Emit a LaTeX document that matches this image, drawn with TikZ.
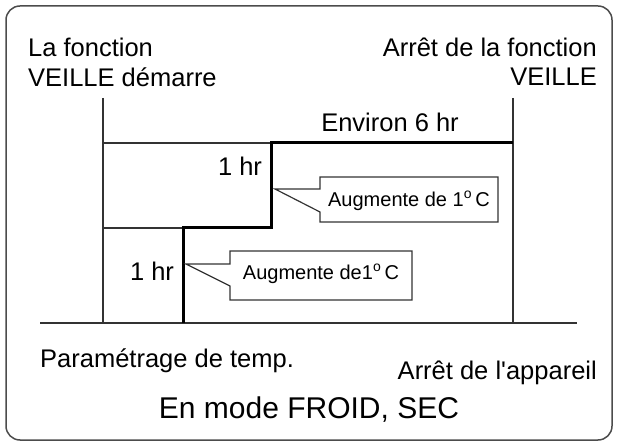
\documentclass[tikz,border=0pt]{standalone}
\usepackage{fontspec}
\setmainfont{Liberation Sans}
\usetikzlibrary{calc}
\begin{document}
\begin{tikzpicture}[x=1pt,y=-1pt,
  lbl/.style={font=\fontsize{25.5}{30}\selectfont, inner sep=0pt},
  note/.style={font=\fontsize{20}{24}\selectfont, inner sep=0pt},
  fine/.style={line width=1.2pt, draw=black!80},
  stair/.style={line width=3pt}]
\useasboundingbox (0,0) rectangle (618,446);
\draw[line width=1.5pt, draw=black!70, rounded corners=14pt] (6,6) rectangle (612,440);
% axes
\coordinate (t0) at (103,98);
\coordinate (t1) at (513,98);
\coordinate (b0) at (103,323);
\coordinate (b1) at (513,323);
\draw[fine] (t0) -- (b0);
\draw[fine] (t1) -- (b1);
\draw[fine] (40,323) -- (577,323);
\draw[fine] (103,143) -- (271,143);
\draw[fine] (103,228) -- (183,228);
% stair
\coordinate (s0) at (183,323);
\coordinate (s1) at (183,228);
\coordinate (s2) at (271,228);
\coordinate (s3) at (271,143);
\coordinate (s4) at (513,143);
\draw[stair] (s0) -- (s1) -- (s2) -- (s3) -- (s4);
% callouts
\draw[fine, fill=white] (320,177) -- (498,177) -- (498,222) -- (320,222) -- (320,212)
  -- (275,189) -- (320,189) -- cycle;
\node[note] (up2) at (409,201) {Augmente de 1\textsuperscript{o}\,C};
\draw[fine, fill=white] (230,251) -- (412,251) -- (412,300) -- (230,300) -- (230,286)
  -- (186,264) -- (230,264) -- cycle;
\node[note] (up1) at (321,274) {Augmente de1\textsuperscript{o}\,C};
% labels
\node[lbl] (h2) at (240,166) {1 hr};
\node[lbl] (h1) at (152,271) {1 hr};
\node[lbl] (six) at (390,122) {Environ 6 hr};
\node[lbl, anchor=west] (st1) at (28,47) {La fonction};
\node[lbl, anchor=west] (st2) at (28,77) {VEILLE démarre};
\node[lbl, anchor=east] (en1) at (597,47) {Arrêt de la fonction};
\node[lbl, anchor=east] (en2) at (597,77) {VEILLE};
\node[lbl, anchor=west] (set) at (40,361) {Paramétrage de temp.};
\node[lbl, anchor=east] (off) at (597,373) {Arrêt de l\textquotesingle appareil};
\node[lbl, font=\fontsize{30}{34}\selectfont] (mode) at (309,410) {En mode FROID, SEC};
\end{tikzpicture}
\end{document}
